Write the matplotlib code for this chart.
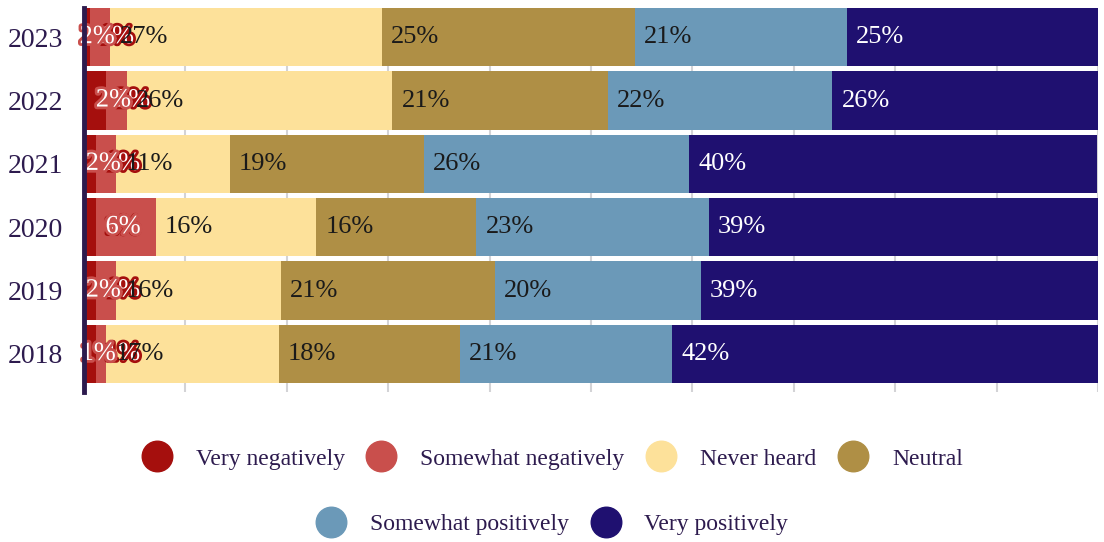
import matplotlib
matplotlib.use("Agg")
import matplotlib.pyplot as plt
import matplotlib.patheffects as pe
from matplotlib.lines import Line2D
import numpy as np

# survey shares per year (percent)
years = ["2018", "2019", "2020", "2021", "2022", "2023"]
categories = ["Very negatively", "Somewhat negatively", "Never heard",
              "Neutral", "Somewhat positively", "Very positively"]
very_negatively = [1.2, 1.2, 1.2, 1.2, 2.2, 0.6]
somewhat_negatively = [1.0, 2.0, 5.9, 2.0, 2.0, 2.0]
never_heard = [17.0, 16.2, 15.8, 11.2, 26.2, 26.8]
neutral = [17.9, 21.1, 15.8, 19.1, 21.3, 24.9]
somewhat_positively = [20.9, 20.3, 22.9, 26.2, 22.1, 20.9]
very_positively = [42.0, 39.3, 38.6, 40.2, 26.2, 24.9]

colors = ["#A50F0D", "#C94F4C", "#FDE19A", "#AF8F45", "#6B99B8", "#1F1070"]
text_colors = ["white", "white", "#1a1a1a", "#1a1a1a", "#1a1a1a", "white"]
INK = "#2D1B4E"

plt.rcParams["font.family"] = ["Liberation Serif", "DejaVu Serif"]

series = [very_negatively, somewhat_negatively, never_heard,
          neutral, somewhat_positively, very_positively]

fig = plt.figure(figsize=(11.04, 5.42), dpi=100)
ax = fig.add_axes([84 / 1104, 1 - 392 / 542, (1098 - 84) / 1104, (392 - 8) / 542])

y = np.arange(len(years))
left = np.zeros(len(years))
for i, (name, vals) in enumerate(zip(categories, series)):
    vals = np.array(vals)
    ax.barh(y, vals, left=left, height=0.92, color=colors[i], zorder=2)
    for j, v in enumerate(vals):
        label = f"{v:.0f}%"
        if i == 0:
            # tiny segment: label pushed right, sits under later labels
            t = ax.text(left[j] + v + 2.6, y[j], label, ha="center", va="center",
                        color="white", fontsize=19, zorder=3)
            t.set_path_effects([pe.withStroke(linewidth=4, foreground=colors[i])])
        elif i == 1:
            t = ax.text(left[j] + v / 2 - 0.3, y[j], label, ha="center", va="center",
                        color="white", fontsize=19, zorder=4)
            t.set_path_effects([pe.withStroke(linewidth=4, foreground=colors[i])])
        else:
            ax.text(left[j] + 0.9, y[j], label, ha="left", va="center",
                    color=text_colors[i], fontsize=19, zorder=5)
    left += vals

ax.set_xlim(0, 100)
ax.set_ylim(-0.6, 5.46)
ax.set_yticks(y)
ax.set_yticklabels(years, fontsize=20, color=INK)
ax.set_xticks(np.arange(0, 101, 10))
ax.set_xticklabels([])
ax.tick_params(axis="both", length=0)
ax.tick_params(axis="y", pad=15)
ax.grid(axis="x", color="#D3D3D6", linewidth=1.5, zorder=0)
ax.set_axisbelow(True)
for side in ["top", "right", "bottom"]:
    ax.spines[side].set_visible(False)
ax.spines["left"].set_color(INK)
ax.spines["left"].set_linewidth(3.5)
ax.spines["left"].set_zorder(6)

handles = [Line2D([], [], marker="o", linestyle="none", markersize=22,
                  markerfacecolor=c, markeredgecolor=c) for c in colors]

fig.legend(handles[:4], categories[:4], loc="center", bbox_to_anchor=(0.5, 1 - 459 / 542),
           ncol=4, frameon=False, fontsize=17, labelcolor=INK,
           handlelength=1.3, handletextpad=1.0, columnspacing=0.9)
fig.legend(handles[4:], categories[4:], loc="center", bbox_to_anchor=(0.5, 1 - 524 / 542),
           ncol=2, frameon=False, fontsize=17, labelcolor=INK,
           handlelength=1.3, handletextpad=1.0, columnspacing=0.9)

fig.savefig("out.png", dpi=100)
